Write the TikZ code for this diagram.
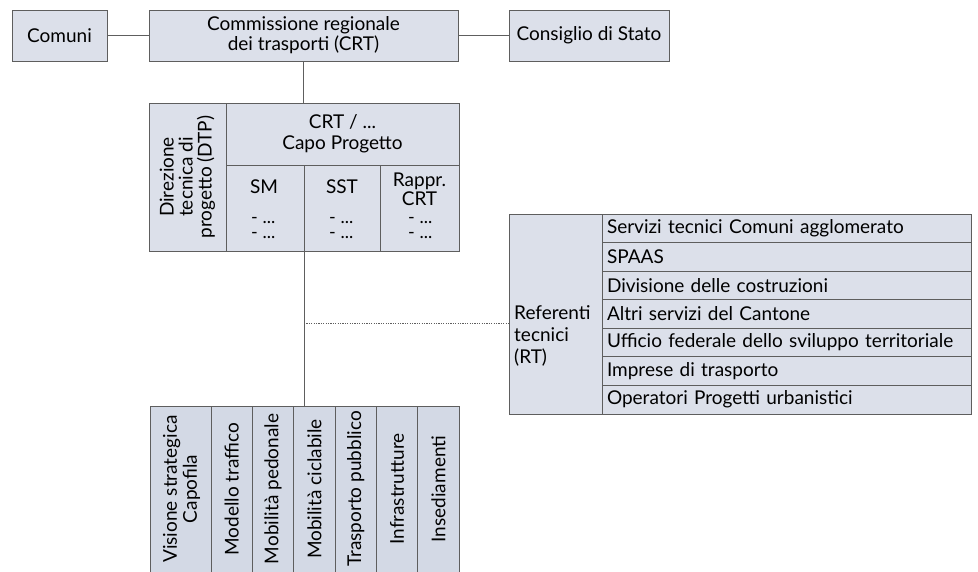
\documentclass[tikz,border=0pt]{standalone}
\usepackage{fontspec}
\setmainfont{Lato}
\usetikzlibrary{calc}
\definecolor{boxfill}{HTML}{DCE0EA}
\definecolor{botfill}{HTML}{D3D9E5}
\definecolor{linec}{HTML}{5E5E5E}
\newcommand{\mainfs}{\fontsize{19}{20}\selectfont}
\tikzset{
  cell/.style={draw=linec, fill=boxfill, line width=0.9pt, inner sep=0pt, outer sep=0pt,
    anchor=north west, font=\mainfs, align=center},
  botcell/.style={cell, fill=botfill},
  rowcell/.style={cell, minimum width=369pt, minimum height=28.57pt, text width=359pt,
    inner xsep=5pt, align=left},
  lbl/.style={inner sep=0pt, font=\mainfs, align=center},
  bl/.style={inner sep=0pt, font=\mainfs, anchor=base},
  dl/.style={inner sep=0pt, font=\fontsize{18}{15}\selectfont, anchor=base west},
  conn/.style={draw=linec, line width=0.9pt},
  dotconn/.style={draw=linec, line width=0.9pt, dash pattern=on 1.2pt off 1.2pt}
}
\begin{document}
\begin{tikzpicture}[x=1pt, y=-1pt]
\useasboundingbox[fill=white] (0,0) rectangle (978,571);

% top row
\node[cell, minimum width=95pt, minimum height=51pt] (comuni) at (12,10) {Comuni};
\node[cell, minimum width=309pt, minimum height=51pt] (crt) at (149,10) {Commissione regionale\\dei trasporti (CRT)};
\node[cell, minimum width=160pt, minimum height=51pt] (cds) at (509,10) {Consiglio di Stato};
\draw[conn] (comuni.east) -- (crt.west);
\draw[conn] (crt.east) -- (cds.west);

% DTP block
\node[cell, minimum width=310pt, minimum height=148pt] (dtp) at (149,103) {};
\node[cell, minimum width=77pt, minimum height=148pt] (dtpl) at (149,103) {};
\node[lbl, rotate=90, font=\fontsize{19}{19}\selectfont] (dtplt) at (dtpl.center) {Direzione\\tecnica di\\progetto (DTP)};
\node[cell, minimum width=233pt, minimum height=62pt, font=\fontsize{19}{21}\selectfont] (head) at (226,103) {CRT / ...\\Capo Progetto};
\node[cell, minimum width=78pt, minimum height=86pt] (sm) at (226,165) {};
\node[cell, minimum width=76pt, minimum height=86pt] (sst) at (304,165) {};
\node[cell, minimum width=79pt, minimum height=86pt] (rappr) at (380,165) {};

\node[bl] (smt) at (264,193) {SM};
\node[bl] (sstt) at (342,193) {SST};
\node[bl, align=center, font=\fontsize{19}{15}\selectfont] (rapprt) at (419.5,205) {Rappr.\\CRT};
\node[dl] (smd1) at (251,223.5) {- ...};
\node[dl] (smd2) at (251,238.5) {- ...};
\node[dl] (sstd1) at (329,223.5) {- ...};
\node[dl] (sstd2) at (329,238.5) {- ...};
\node[dl] (rapprd1) at (408,223.5) {- ...};
\node[dl] (rapprd2) at (408,238.5) {- ...};

\draw[conn] (crt.south) -- (crt.south |- dtp.north);

% bottom group
\node[inner sep=0pt, outer sep=0pt, anchor=north west, minimum width=309pt, minimum height=167pt] (bot) at (150,406) {};
\node[botcell, minimum width=61pt, minimum height=167pt] (b1) at (150,406) {};
\node[botcell, minimum width=41.33pt, minimum height=167pt] (b2) at (211,406) {};
\node[botcell, minimum width=41.33pt, minimum height=167pt] (b3) at (252.33,406) {};
\node[botcell, minimum width=41.33pt, minimum height=167pt] (b4) at (293.67,406) {};
\node[botcell, minimum width=41.33pt, minimum height=167pt] (b5) at (335,406) {};
\node[botcell, minimum width=41.33pt, minimum height=167pt] (b6) at (376.33,406) {};
\node[botcell, minimum width=41.33pt, minimum height=167pt] (b7) at (417.67,406) {};
\node[lbl, rotate=90] (b1t) at ($(b1.north)+(1,83)$) {Visione strategica\\Capofila};
\node[lbl, rotate=90] (b2t) at ($(b2.north)+(0,83)$) {Modello traffico};
\node[lbl, rotate=90] (b3t) at ($(b3.north)+(0,83)$) {Mobilità pedonale};
\node[lbl, rotate=90] (b4t) at ($(b4.north)+(0,83)$) {Mobilità ciclabile};
\node[lbl, rotate=90] (b5t) at ($(b5.north)+(0,83)$) {Trasporto pubblico};
\node[lbl, rotate=90] (b6t) at ($(b6.north)+(0,83)$) {Infrastrutture};
\node[lbl, rotate=90] (b7t) at ($(b7.north)+(0,83)$) {Insediamenti};

\draw[conn] (dtp.south) -- (dtp.south |- bot.north);

% RT block
\node[cell, minimum width=462pt, minimum height=200pt] (rt) at (509,214) {};
\node[cell, minimum width=93pt, minimum height=200pt] (rtl) at (509,214) {};
\node[lbl, anchor=west, align=left, font=\fontsize{19}{22}\selectfont] (rtlt) at (514,336) {Referenti\\tecnici\\(RT)};
\node[rowcell] (r1) at (602,214) {Servizi tecnici Comuni agglomerato};
\node[rowcell] (r2) at (602,242.57) {SPAAS};
\node[rowcell] (r3) at (602,271.14) {Divisione delle costruzioni};
\node[rowcell] (r4) at (602,299.71) {Altri servizi del Cantone};
\node[rowcell] (r5) at (602,328.29) {Ufficio federale dello sviluppo territoriale};
\node[rowcell] (r6) at (602,356.86) {Imprese di trasporto};
\node[rowcell] (r7) at (602,385.43) {Operatori Progetti urbanistici};

\coordinate (jn) at (304,323);
\draw[dotconn] (jn) -- (jn -| rt.west);
\end{tikzpicture}
\end{document}
